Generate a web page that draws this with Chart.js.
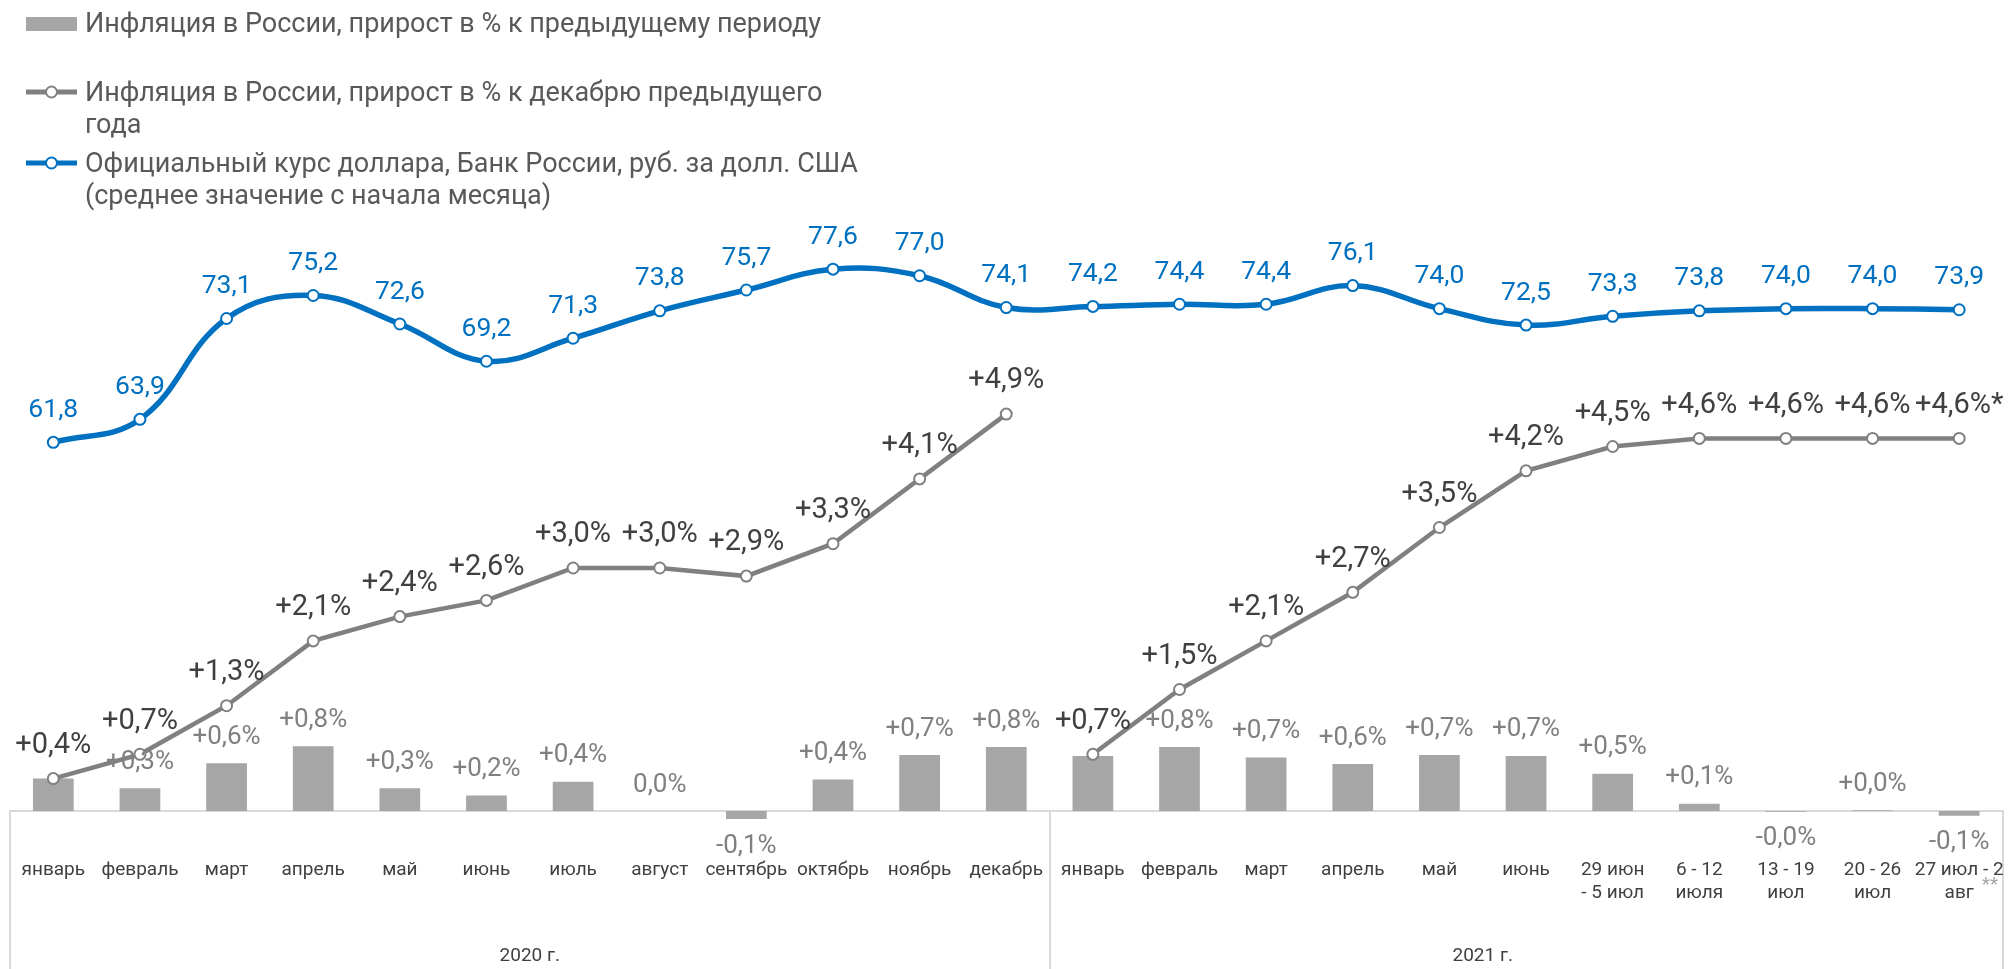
<!DOCTYPE html>
<html>
<head>
<meta charset="utf-8">
<script src="https://cdn.jsdelivr.net/npm/chart.js@4"></script>
<style>
  body { margin: 0; background: #fff; }
  #wrap { position: relative; width: 2010px; height: 969px; }
  .lg { position: absolute; left: 0; font-family: Roboto, sans-serif; font-size: 27px; line-height: 32px; color: #595959; white-space: nowrap; }
  .lg .txt { position: absolute; left: 85px; top: 0; }
  .lg svg { position: absolute; left: 26px; }
</style>
</head>
<body>
<div id="wrap">
  <canvas id="chart" width="2010" height="969"></canvas>

  <!-- legend -->
  <div class="lg" style="top:7px">
    <svg width="52" height="32" style="top:0"><rect x="0" y="10" width="51" height="14" fill="#A6A6A6"/></svg>
    <div class="txt">Инфляция в России, прирост в % к предыдущему периоду</div>
  </div>
  <div class="lg" style="top:76px">
    <svg width="52" height="32" style="top:0"><line x1="0" y1="16" x2="51" y2="16" stroke="#808080" stroke-width="5"/><circle cx="25.5" cy="16" r="5.5" fill="#fff" stroke="#808080" stroke-width="2"/></svg>
    <div class="txt">Инфляция в России, прирост в % к декабрю предыдущего<br>года</div>
  </div>
  <div class="lg" style="top:147px">
    <svg width="52" height="32" style="top:0"><line x1="0" y1="16" x2="51" y2="16" stroke="#0070C0" stroke-width="5"/><circle cx="25.5" cy="16" r="5.5" fill="#fff" stroke="#0070C0" stroke-width="2"/></svg>
    <div class="txt">Официальный курс доллара, Банк России, руб. за долл. США<br>(среднее значение с начала месяца)</div>
  </div>
</div>

<script>
// Categories (x-axis)
const periods = [
    'январь', 'февраль', 'март', 'апрель', 'май', 'июнь',
    'июль', 'август', 'сентябрь', 'октябрь', 'ноябрь', 'декабрь',
    'январь', 'февраль', 'март', 'апрель', 'май', 'июнь',
    ['29 июн', '- 5 июл'], ['6 - 12', 'июля'], ['13 - 19', 'июл'],
    ['20 - 26', 'июл'], ['27 июл - 2', 'авг']
];

// Year groups under the categories
const yearLabels = ['2020 г.', '2021 г.'];
const yearCenters = [5.5, 16.5];      // middle of each group (category units)
const groupBounds = [0, 12, 23];      // grid line indexes that separate groups

// Inflation, % to previous period (bars)
const monthlyInfl = [
    0.40, 0.28, 0.59, 0.80, 0.28, 0.19, 0.36, 0.0, -0.10, 0.39, 0.69, 0.79,
    0.68, 0.79, 0.66, 0.58, 0.69, 0.68, 0.46, 0.09, -0.01, 0.01, -0.06
];

// Inflation, % to December of previous year (grey line)
const cumInfl = [
    0.4, 0.7, 1.3, 2.1, 2.4, 2.6, 3.0, 3.0, 2.9, 3.3, 4.1, 4.9,
    0.7, 1.5, 2.1, 2.7, 3.5, 4.2, 4.5, 4.6, 4.6, 4.6, 4.6
];

// USD rate, rub (blue line)
const usdRate = [
    61.8, 63.9, 73.1, 75.2, 72.6, 69.2, 71.3, 73.8, 75.7, 77.6, 77.0, 74.1,
    74.2, 74.4, 74.4, 76.1, 74.0, 72.5, 73.3, 73.8, 74.0, 74.0, 73.9
];

const FONT = 'Roboto, sans-serif';

function signed(v) {
    const s = Math.abs(v).toFixed(1).replace('.', ',');
    if (v > 0) return '+' + s + '%';
    if (v < 0) return '-' + s + '%';
    return s + '%';
}

// draws the value labels above/below the marks
const valueLabels = {
    id: 'valueLabels',
    afterDatasetsDraw(chart) {
        const ctx = chart.ctx;
        ctx.save();
        ctx.textAlign = 'center';
        ctx.textBaseline = 'middle';

        // bars
        ctx.font = '26px ' + FONT;
        ctx.fillStyle = '#808080';
        chart.getDatasetMeta(0).data.forEach((el, i) => {
            if (i === 0 || i === 12) return; // same as the grey line label
            const v = monthlyInfl[i];
            ctx.fillText(signed(v), el.x, v < 0 ? el.y + 27 : el.y - 26);
        });

        // grey line
        ctx.font = '29px ' + FONT;
        ctx.fillStyle = '#404040';
        chart.getDatasetMeta(1).data.forEach((el, i) => {
            let t = '+' + cumInfl[i].toFixed(1).replace('.', ',') + '%';
            if (i === cumInfl.length - 1) t += '*';
            ctx.fillText(t, el.x, el.y - 33);
        });

        // blue line
        ctx.font = '26.5px ' + FONT;
        ctx.fillStyle = '#0070C0';
        chart.getDatasetMeta(2).data.forEach((el, i) => {
            ctx.fillText(usdRate[i].toFixed(1).replace('.', ','), el.x, el.y - 32);
        });

        // footnote mark after the last category
        const x = chart.scales.x;
        const last = periods.length - 1;
        ctx.font = '19px ' + FONT;
        const w = ctx.measureText('авг').width;
        ctx.textAlign = 'left';
        ctx.fillStyle = '#A6A6A6';
        ctx.fillText('**', x.getPixelForValue(last) + w / 2 + 8, x.top + 74);
        ctx.restore();
    }
};

const ctx = document.getElementById('chart').getContext('2d');
const chart = new Chart(ctx, {
    data: {
        labels: periods,
        datasets: [{
            type: 'bar',
            label: 'Инфляция в России, прирост в % к предыдущему периоду',
            data: monthlyInfl,
            backgroundColor: '#A6A6A6',
            categoryPercentage: 1,
            barPercentage: 0.47,
            yAxisID: 'y',
            clip: false,
            order: 3
        }, {
            type: 'line',
            label: 'Инфляция в России, прирост в % к декабрю предыдущего года',
            data: cumInfl,
            borderColor: '#808080',
            borderWidth: 4.5,
            pointRadius: 5.5,
            pointBorderWidth: 2,
            pointBackgroundColor: '#fff',
            pointBorderColor: '#808080',
            tension: 0,
            yAxisID: 'y',
            clip: false,
            order: 2,
            segment: {
                // no line between December 2020 and January 2021
                borderColor: c => c.p0DataIndex === 11 ? 'rgba(0,0,0,0)' : undefined
            }
        }, {
            type: 'line',
            label: 'Официальный курс доллара, Банк России, руб. за долл. США',
            data: usdRate,
            borderColor: '#0070C0',
            borderWidth: 5.5,
            pointRadius: 5.5,
            pointBorderWidth: 2,
            pointBackgroundColor: '#fff',
            pointBorderColor: '#0070C0',
            tension: 0.4,
            yAxisID: 'y2',
            clip: false,
            order: 1
        }]
    },
    options: {
        responsive: false,
        animation: false,
        events: [],
        layout: { padding: { top: 210, left: 10, right: 1.5, bottom: 0 } },
        plugins: {
            legend: { display: false },
            tooltip: { enabled: false }
        },
        scales: {
            x: {
                type: 'category',
                offset: true,
                grid: {
                    offset: true,
                    drawOnChartArea: false,
                    drawTicks: true,
                    tickLength: 158,
                    lineWidth: 2,
                    color: c => (c.index === undefined || groupBounds.includes(c.index)) ? '#D9D9D9' : 'rgba(0,0,0,0)'
                },
                border: { display: true, color: '#D9D9D9', width: 2 },
                ticks: {
                    autoSkip: false,
                    maxRotation: 0,
                    minRotation: 0,
                    padding: -110.4,
                    color: '#404040',
                    font: { family: FONT, size: 19, lineHeight: 1.2 }
                },
                afterFit: s => { s.height = 120; }
            },
            x2: {
                type: 'linear',
                position: 'bottom',
                min: -0.5,
                max: 22.5,
                grid: { display: false, drawTicks: false },
                border: { display: false },
                afterBuildTicks: s => { s.ticks = yearCenters.map(v => ({ value: v })); },
                ticks: {
                    autoSkip: false,
                    maxRotation: 0,
                    padding: 13.6,
                    color: '#404040',
                    font: { family: FONT, size: 19, lineHeight: 1.2 },
                    callback: (v, i) => yearLabels[i]
                },
                afterFit: s => { s.height = 38; }
            },
            y: {
                display: false,
                min: 0,
                max: 7.42
            },
            y2: {
                display: false,
                position: 'right',
                min: 28.16,
                max: 83.0
            }
        }
    },
    plugins: [valueLabels]
});
</script>
</body>
</html>
